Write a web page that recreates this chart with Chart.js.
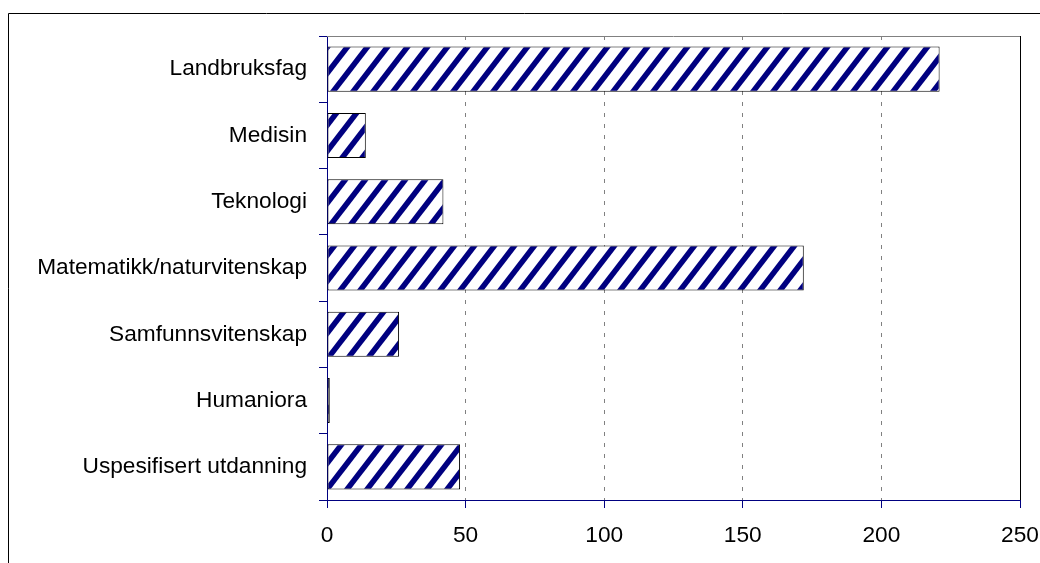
<!DOCTYPE html>
<html>
<head>
<meta charset="utf-8">
<script src="https://cdn.jsdelivr.net/npm/chart.js@4/dist/chart.umd.min.js"></script>
<style>
  html, body { margin: 0; padding: 0; background: #fff; }
  #wrap { width: 1040px; height: 563px; position: relative; }
</style>
</head>
<body>
<div id="wrap"><canvas id="chart" width="1040" height="563"></canvas></div>
<script>
// Chart data
const categories = [
    'Landbruksfag',
    'Medisin',
    'Teknologi',
    'Matematikk/naturvitenskap',
    'Samfunnsvitenskap',
    'Humaniora',
    'Uspesifisert utdanning'
];
const values = [221, 14, 42, 172, 26, 1, 48];
const xTicks = [0, 50, 100, 150, 200, 250];

const NAVY = '#000080';

// Hatch pattern (wide upward diagonal)
function makeHatch() {
    const w = 20, h = 26, t = 7;
    const c = document.createElement('canvas');
    c.width = w;
    c.height = h;
    const g = c.getContext('2d');
    g.fillStyle = '#fff';
    g.fillRect(0, 0, w, h);
    g.fillStyle = NAVY;
    [-w, 0, w].forEach(x => {
        g.beginPath();
        g.moveTo(x, h);
        g.lineTo(x + t, h);
        g.lineTo(x + t + w, 0);
        g.lineTo(x + w, 0);
        g.closePath();
        g.fill();
    });
    return g.createPattern(c, 'repeat');
}

// Outer frame and plot area frame
const framePlugin = {
    id: 'frames',
    beforeDraw(chart) {
        const c = chart.ctx;
        c.save();
        c.strokeStyle = '#000';
        c.lineWidth = 1;
        c.beginPath();
        c.moveTo(8.5, chart.height);
        c.lineTo(8.5, 13.5);
        c.lineTo(chart.width, 13.5);
        c.stroke();
        c.restore();
    },
    afterDraw(chart) {
        const a = chart.chartArea;
        const c = chart.ctx;
        c.save();
        c.lineWidth = 1;
        c.strokeStyle = '#808080';
        c.beginPath();
        c.moveTo(a.left, a.top + 0.5);
        c.lineTo(a.right, a.top + 0.5);
        c.stroke();
        c.strokeStyle = '#000';
        c.beginPath();
        c.moveTo(a.right + 0.5, a.top);
        c.lineTo(a.right + 0.5, a.bottom);
        c.stroke();
        c.restore();
    }
};

const font = { family: '"Liberation Sans", Arial, sans-serif', size: 22.7 };

const ctx = document.getElementById('chart').getContext('2d');
const chart = new Chart(ctx, {
    type: 'bar',
    data: {
        labels: categories,
        datasets: [{
            data: values,
            backgroundColor: makeHatch(),
            borderColor: '#000',
            borderWidth: 1,
            borderSkipped: false,
            barPercentage: 0.68,
            categoryPercentage: 1
        }]
    },
    options: {
        indexAxis: 'y',
        responsive: false,
        animation: false,
        layout: { padding: { top: 36, right: 20, left: 0, bottom: 0 } },
        plugins: {
            legend: { display: false },
            tooltip: { enabled: false }
        },
        scales: {
            x: {
                min: 0,
                max: 250,
                afterBuildTicks: s => { s.ticks = xTicks.map(v => ({ value: v })); },
                afterFit: s => {
                    s.height = 63;
                    s.paddingLeft = 0;
                    s.paddingRight = 0;
                },
                ticks: { color: '#000', font: font, padding: 14, maxRotation: 0 },
                grid: {
                    color: c => (c.tick && c.tick.value > 0 && c.tick.value < 250) ? '#808080' : 'rgba(0,0,0,0)',
                    tickColor: NAVY,
                    tickLength: 8,
                    tickBorderDash: []
                },
                border: { color: NAVY, width: 1, dash: [4, 7] }
            },
            y: {
                afterFit: s => { s.width = 327; },
                ticks: { color: '#000', font: font, padding: 12 },
                grid: {
                    offset: true,
                    drawOnChartArea: false,
                    tickColor: NAVY,
                    tickLength: 8
                },
                border: { color: NAVY, width: 1 }
            }
        }
    },
    plugins: [framePlugin]
});
</script>
</body>
</html>
